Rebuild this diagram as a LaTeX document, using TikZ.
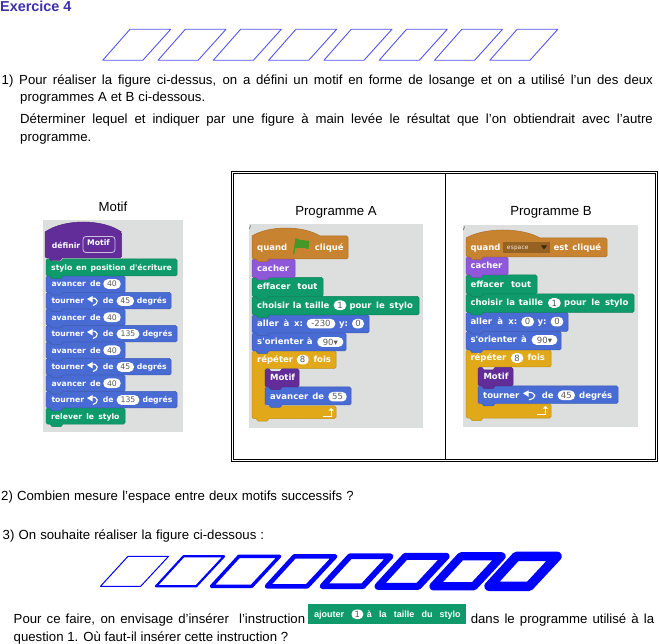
\documentclass[tikz,border=0pt]{standalone}
\usepackage{fontspec}
\setmainfont{Liberation Sans}
\newfontfamily\scrfont{DejaVu Sans}
\newfontfamily\scrmono{DejaVu Sans Mono}
\definecolor{exo}{RGB}{62,48,170}
\definecolor{rhomb}{RGB}{85,85,245}
\definecolor{blu}{RGB}{0,0,255}
\definecolor{panel}{RGB}{221,222,222}
\definecolor{pdot}{RGB}{208,209,209}
\definecolor{cgreen}{RGB}{15,154,108}
\definecolor{cblue}{RGB}{73,108,212}
\definecolor{cpurp}{RGB}{142,88,216}
\definecolor{cdark}{RGB}{99,45,153}
\definecolor{cyell}{RGB}{225,169,26}
\definecolor{cbrown}{RGB}{200,131,48}
\definecolor{cflag}{RGB}{72,150,40}
\definecolor{pilltxt}{RGB}{90,90,90}
\def\scrsz{7.7}
\tikzset{
  blockedge/.style={draw=#1!85!black,line width=.5pt,fill=#1,line join=round},
  maintext/.style={anchor=base west,inner sep=0pt,font=\fontsize{13.2}{15}\selectfont},
  titletext/.style={anchor=center,inner sep=0pt,font=\fontsize{13.2}{15}\selectfont},
  scrtext/.style={anchor=base west,inner sep=0pt,text=white,font=\scrfont\bfseries\fontsize{\scrsz}{9}\selectfont},
  pilltext/.style={anchor=center,inner sep=0pt,text=pilltxt,font=\scrfont\fontsize{\scrsz}{9}\selectfont},
  tableline/.style={draw=black,line width=.9pt},
}
% main text line stretched between two abscissas
\newcommand\mainline[4]{\node[maintext] at (#1,#3) {\makebox[\dimexpr#2pt-#1pt\relax][s]{#4}};}
% block text
\newcommand\lab[4]{\node[scrtext] at (#1,#3+2.8) {\makebox[\dimexpr#2pt-#1pt\relax][s]{#4}};}
\newcommand\pill[4]{\fill[white,rounded corners=4.6pt] (#1,#3-4.8) rectangle (#2,#3+4.8);
  \node[pilltext] at ({(#1+#2)/2},#3) {#4};}
% stack block: x1,y1,x2,y2,colour
\newcommand\blk[5]{\path[blockedge=#5] (#1,#2+1.5) -- (#1+1.5,#2) -- (#1+4,#2) -- (#1+6,#2+2.5) -- (#1+15,#2+2.5) -- (#1+17,#2)
  -- (#3-1.5,#2) -- (#3,#2+1.5) -- (#3,#4-1.5) -- (#3-1.5,#4) -- (#1+17,#4) -- (#1+15,#4+2.5) -- (#1+6,#4+2.5) -- (#1+4,#4)
  -- (#1+1.5,#4) -- (#1,#4-1.5) -- cycle;}
% hat block: x1,x2,xc,ytop,ybody,y2,colour
\newcommand\hatblk[7]{\path[blockedge=#7] (#1,#5) .. controls ({#1+(#3-#1)*.25},{#4-(#5-#4)/3}) and ({#1+(#3-#1)*.75},{#4-(#5-#4)/3}) .. (#3,#5)
  -- (#2-1.5,#5) -- (#2,#5+1.5) -- (#2,#6-1.5) -- (#2-1.5,#6) -- (#1+17,#6) -- (#1+15,#6+2.5) -- (#1+6,#6+2.5) -- (#1+4,#6)
  -- (#1+1.5,#6) -- (#1,#6-1.5) -- cycle;}
% C block: x1,y1,xbar,ybar,xin,yf,y2
\newcommand\cblk[7]{\path[blockedge=cyell] (#1,#2+1.5) -- (#1+1.5,#2) -- (#1+4,#2) -- (#1+6,#2+2.5) -- (#1+15,#2+2.5) -- (#1+17,#2)
  -- (#3-1.5,#2) -- (#3,#2+1.5) -- (#3,#4-1.5) -- (#3-1.5,#4) -- (#5,#4) -- (#5,#6) -- (#3-1.5,#6) -- (#3,#6+1.5) -- (#3,#7-1.5) -- (#3-1.5,#7)
  -- (#1+17,#7) -- (#1+15,#7+2.5) -- (#1+6,#7+2.5) -- (#1+4,#7) -- (#1+1.5,#7) -- (#1,#7-1.5) -- cycle;}
% turn icon: x1,x2,yc
\newcommand\turnicon[3]{\fill[white] (#1,#3-2) -- (#1+5.5,#3-5) -- (#1+5.5,#3+1.5) -- cycle;
  \draw[white,line width=1.1pt] (#1+4,#3-3) .. controls (#2+1,#3-3.5) and (#2+1,#3+3) .. (#1+6,#3+4.5);}
% loop arrow: x1,x2,y1,y2
\newcommand\looparr[4]{\draw[white,line width=1pt] (#1,#4) -- (#2-3,#4) -- (#2-3,#3+2);
  \fill[white] (#2-5.5,#3+2.5) -- (#2-3,#3) -- (#2-.5,#3+2.5) -- cycle;}
% panel with dots: x1,y1,x2,y2
\newcommand\pnl[4]{\fill[panel] (#1,#2) rectangle (#3,#4);
  \begin{scope}
  \clip (#1,#2) rectangle (#3,#4);
  \foreach \dx in {8,20,...,176}{\foreach \dy in {8,20,...,212}{
    \fill[pdot] (#1+\dx,#2+\dy) circle (.45pt);}}
  \end{scope}}
\begin{document}
\begin{tikzpicture}[x=1pt,y=-1pt]
\useasboundingbox[fill=white] (0,0) rectangle (659,644);

% ---- text, top
\node[anchor=base west,inner sep=0pt,text=exo,font=\bfseries\fontsize{14.4}{16}\selectfont] (title) at (0,12) {Exercice 4};
\foreach \i in {0,...,7}{
  \draw[rhomb,line width=.9pt,line join=round] ({102.7+\i*55.3},60.3) -- ({142.8+\i*55.3},60.3) -- ({170.7+\i*55.3},29.3) -- ({130+\i*55.3},29.3) -- cycle;
}
\mainline{1.5}{652.7}{84.5}{1) Pour réaliser la figure ci-dessus, on a défini un motif en forme de losange et on a utilisé l'un des deux}
\mainline{20}{205}{101.5}{programmes A et B ci-dessous.}
\mainline{20}{652.7}{123.5}{Déterminer lequel et indiquer par une figure à main levée le résultat que l'on obtiendrait avec l'autre}
\mainline{20}{92}{141.5}{programme.}

% ---- table
\draw[tableline] (231.5,171.5) rectangle (657.5,461.8);
\draw[tableline] (233.5,173.5) rectangle (655.5,459.5);
\draw[tableline] (445,173.5) -- (445,459.5);

\node[titletext] (motif) at (113,207) {Motif};
\node[titletext] (proga) at (336,212) {Programme A};
\node[titletext] (progb) at (551,212) {Programme B};

% ---- Motif
\pnl{43}{220}{183}{432}
\blk{46}{408}{125}{424}{cgreen}
\blk{46}{391.5}{177}{408}{cblue}
\blk{46}{375}{125}{391.5}{cblue}
\blk{46}{358.5}{171}{375}{cblue}
\blk{46}{342}{125}{358.5}{cblue}
\blk{46}{325.5}{177}{342}{cblue}
\blk{46}{309}{125}{325.5}{cblue}
\blk{46}{292.5}{171}{309}{cblue}
\blk{46}{276}{125}{292.5}{cblue}
\blk{46}{259}{177}{276}{cgreen}
\hatblk{45}{121.5}{121.5}{222}{232}{258}{cdark}
\draw[white!70!cdark,line width=.8pt,rounded corners=3pt] (83,236.5) rectangle (115,252.5);
\lab{51.7}{80}{245.7}{définir}
\lab{87}{110}{243}{Motif}
\lab{51}{171.7}{267.7}{stylo en position d'écriture}
\foreach \yy in {284,317.3,350.3,383.3}{
  \lab{51.3}{100.7}{\yy}{avancer de}
  \pill{103.3}{120.7}{\yy}{40}
}
\foreach \yy/\vv/\xa/\xb/\xc in {301/45/134/136.7/166,334/135/139.3/142.3/171.3,367/45/134/136.7/166,400/135/139.3/142.3/171.3}{
  \lab{51.3}{83.3}{\yy}{tourner}
  \turnicon{87}{98}{\yy}
  \lab{102.7}{112.7}{\yy}{de}
  \pill{116.7}{\xa}{\yy}{\vv}
  \lab{\xb}{\xc}{\yy}{degrés}
}
\lab{51}{119.3}{416.7}{relever le stylo}

\def\scrsz{8.5}
% ---- Programme A
\pnl{249}{224}{423}{428}
\draw[black!70,line width=.5pt] (249.5,229) -- (250.5,225.5);
\cblk{252}{351}{336}{368.5}{265}{406}{418.5}
\blk{265}{387}{351}{405}{cblue}
\blk{265}{369}{299}{387}{cdark}
\blk{252}{333}{346}{351}{cblue}
\blk{252}{315}{369}{333}{cblue}
\blk{252}{296.5}{419}{315}{cgreen}
\blk{252}{277.5}{323}{296.5}{cgreen}
\blk{252}{259}{295}{277.5}{cpurp}
\hatblk{252}{348}{320}{228}{236}{259}{cbrown}
\lab{257}{285.7}{247.7}{quand}
\fill[cflag] (293,254) -- (295.5,238) .. controls (299,240.5) and (304,240) .. (309.3,241) -- (308.5,249) .. controls (304,247.5) and (299,247.5) .. (295,248.5) -- (294.5,254) -- cycle;
\lab{314.7}{342}{247.7}{cliqué}
\lab{257}{289}{268.7}{cacher}
\lab{257}{317.3}{287}{effacer tout}
\lab{257}{329.3}{305.3}{choisir la taille}
\pill{333.7}{346.3}{305.3}{1}
\lab{349.3}{412.7}{305.3}{pour le stylo}
\lab{257}{302.7}{323.7}{aller à x:}
\pill{306.7}{335.3}{323.7}{-230}
\lab{339}{348}{323.7}{y:}
\pill{352}{364}{323.7}{0}
\lab{257}{312.3}{342}{s'orienter à}
\pill{317.3}{343.3}{342}{90▾}
\lab{257}{292.7}{359.7}{répéter}
\pill{296.7}{308.7}{359.7}{8}
\lab{313.3}{330}{359.7}{fois}
\lab{270}{294}{378}{Motif}
\lab{270}{324}{396.7}{avancer de}
\pill{328.3}{346.7}{396.7}{55}
\looparr{323}{334}{408}{416}

% ---- Programme B
\pnl{463}{225}{638}{427}
\draw[black!70,line width=.5pt] (463.5,230) -- (464.5,226.5);
\cblk{466}{350}{551}{367}{478}{404}{418}
\blk{478}{386}{618}{403.5}{cblue}
\blk{478}{367.5}{513}{386}{cdark}
\blk{466}{331.5}{561}{350}{cblue}
\blk{466}{312.5}{568}{331.5}{cblue}
\blk{466}{294}{634}{312.5}{cgreen}
\blk{466}{275}{537}{294}{cgreen}
\blk{466}{257}{508}{275}{cpurp}
\hatblk{466}{607}{540}{230}{238}{257}{cbrown}
\lab{470.3}{498.7}{247.3}{quand}
\fill[cbrown!75!black] (503.3,241.7) rectangle (550,253.3);
\node[anchor=base west,inner sep=0pt,text=white!85!cbrown,font=\scrmono\fontsize{6}{7}\selectfont] at (506.7,249.6) {espace};
\fill[black!70!cbrown] (541,245.5) -- (547,245.5) -- (544,249.5) -- cycle;
\lab{553.3}{601}{247.3}{est cliqué}
\lab{470.3}{502.7}{266}{cacher}
\lab{470.3}{531}{284.7}{effacer tout}
\lab{470.3}{543}{303}{choisir la taille}
\pill{548}{560.7}{303}{1}
\lab{564}{628.3}{303}{pour le stylo}
\lab{470.3}{517}{321.7}{aller à x:}
\pill{521.3}{534}{321.7}{0}
\lab{537.3}{546}{321.7}{y:}
\pill{550.7}{563.3}{321.7}{0}
\lab{470.3}{526.7}{340}{s'orienter à}
\pill{531.7}{557.3}{340}{90▾}
\lab{470.3}{506.7}{358}{répéter}
\pill{511}{523.3}{358}{8}
\lab{527.3}{544.3}{358}{fois}
\lab{483.3}{507.7}{376.7}{Motif}
\lab{483}{520}{395.3}{tourner}
\turnicon{523}{536}{395.3}
\lab{541.7}{552.7}{395.3}{de}
\pill{557.7}{575}{395.3}{45}
\lab{579}{612}{395.3}{degrés}
\looparr{537.3}{548.3}{406}{414}

% ---- text, bottom
\mainline{1}{353.5}{500.5}{2) Combien mesure l'espace entre deux motifs successifs ?}
\mainline{2.5}{264}{539.5}{3) On souhaite réaliser la figure ci-dessous :}
\foreach \i in {0,...,7}{
  \draw[blu,line width={(1+\i*1.2)*1pt},line join=round] ({100.5+\i*55.5},586.3) -- ({140.7+\i*55.5},586.3) -- ({168.6+\i*55.5},556.3) -- ({128+\i*55.5},556.3) -- cycle;
}
\mainline{13.5}{305}{623.5}{Pour ce faire, on envisage d'insérer\ \ l'instruction}
\fill[black!25] (321,603.5) rectangle (332,606);
\fill[cgreen] (308.4,604.3) rectangle (466.4,624.3);
\node[anchor=base west,inner sep=0pt,text=white,font=\bfseries\fontsize{9}{10}\selectfont] at (314,617.3) {\makebox[33pt][s]{ajouter}};
\pill{351.5}{363.3}{614.3}{1}
\node[anchor=base west,inner sep=0pt,text=white,font=\bfseries\fontsize{9}{10}\selectfont] at (366.7,617.3) {\makebox[93.8pt][s]{à la taille du stylo}};
\mainline{470.6}{654}{623.5}{dans le programme utilisé à la}
\mainline{13.5}{288}{641}{question 1. Où faut-il insérer cette instruction ?}
\end{tikzpicture}
\end{document}
